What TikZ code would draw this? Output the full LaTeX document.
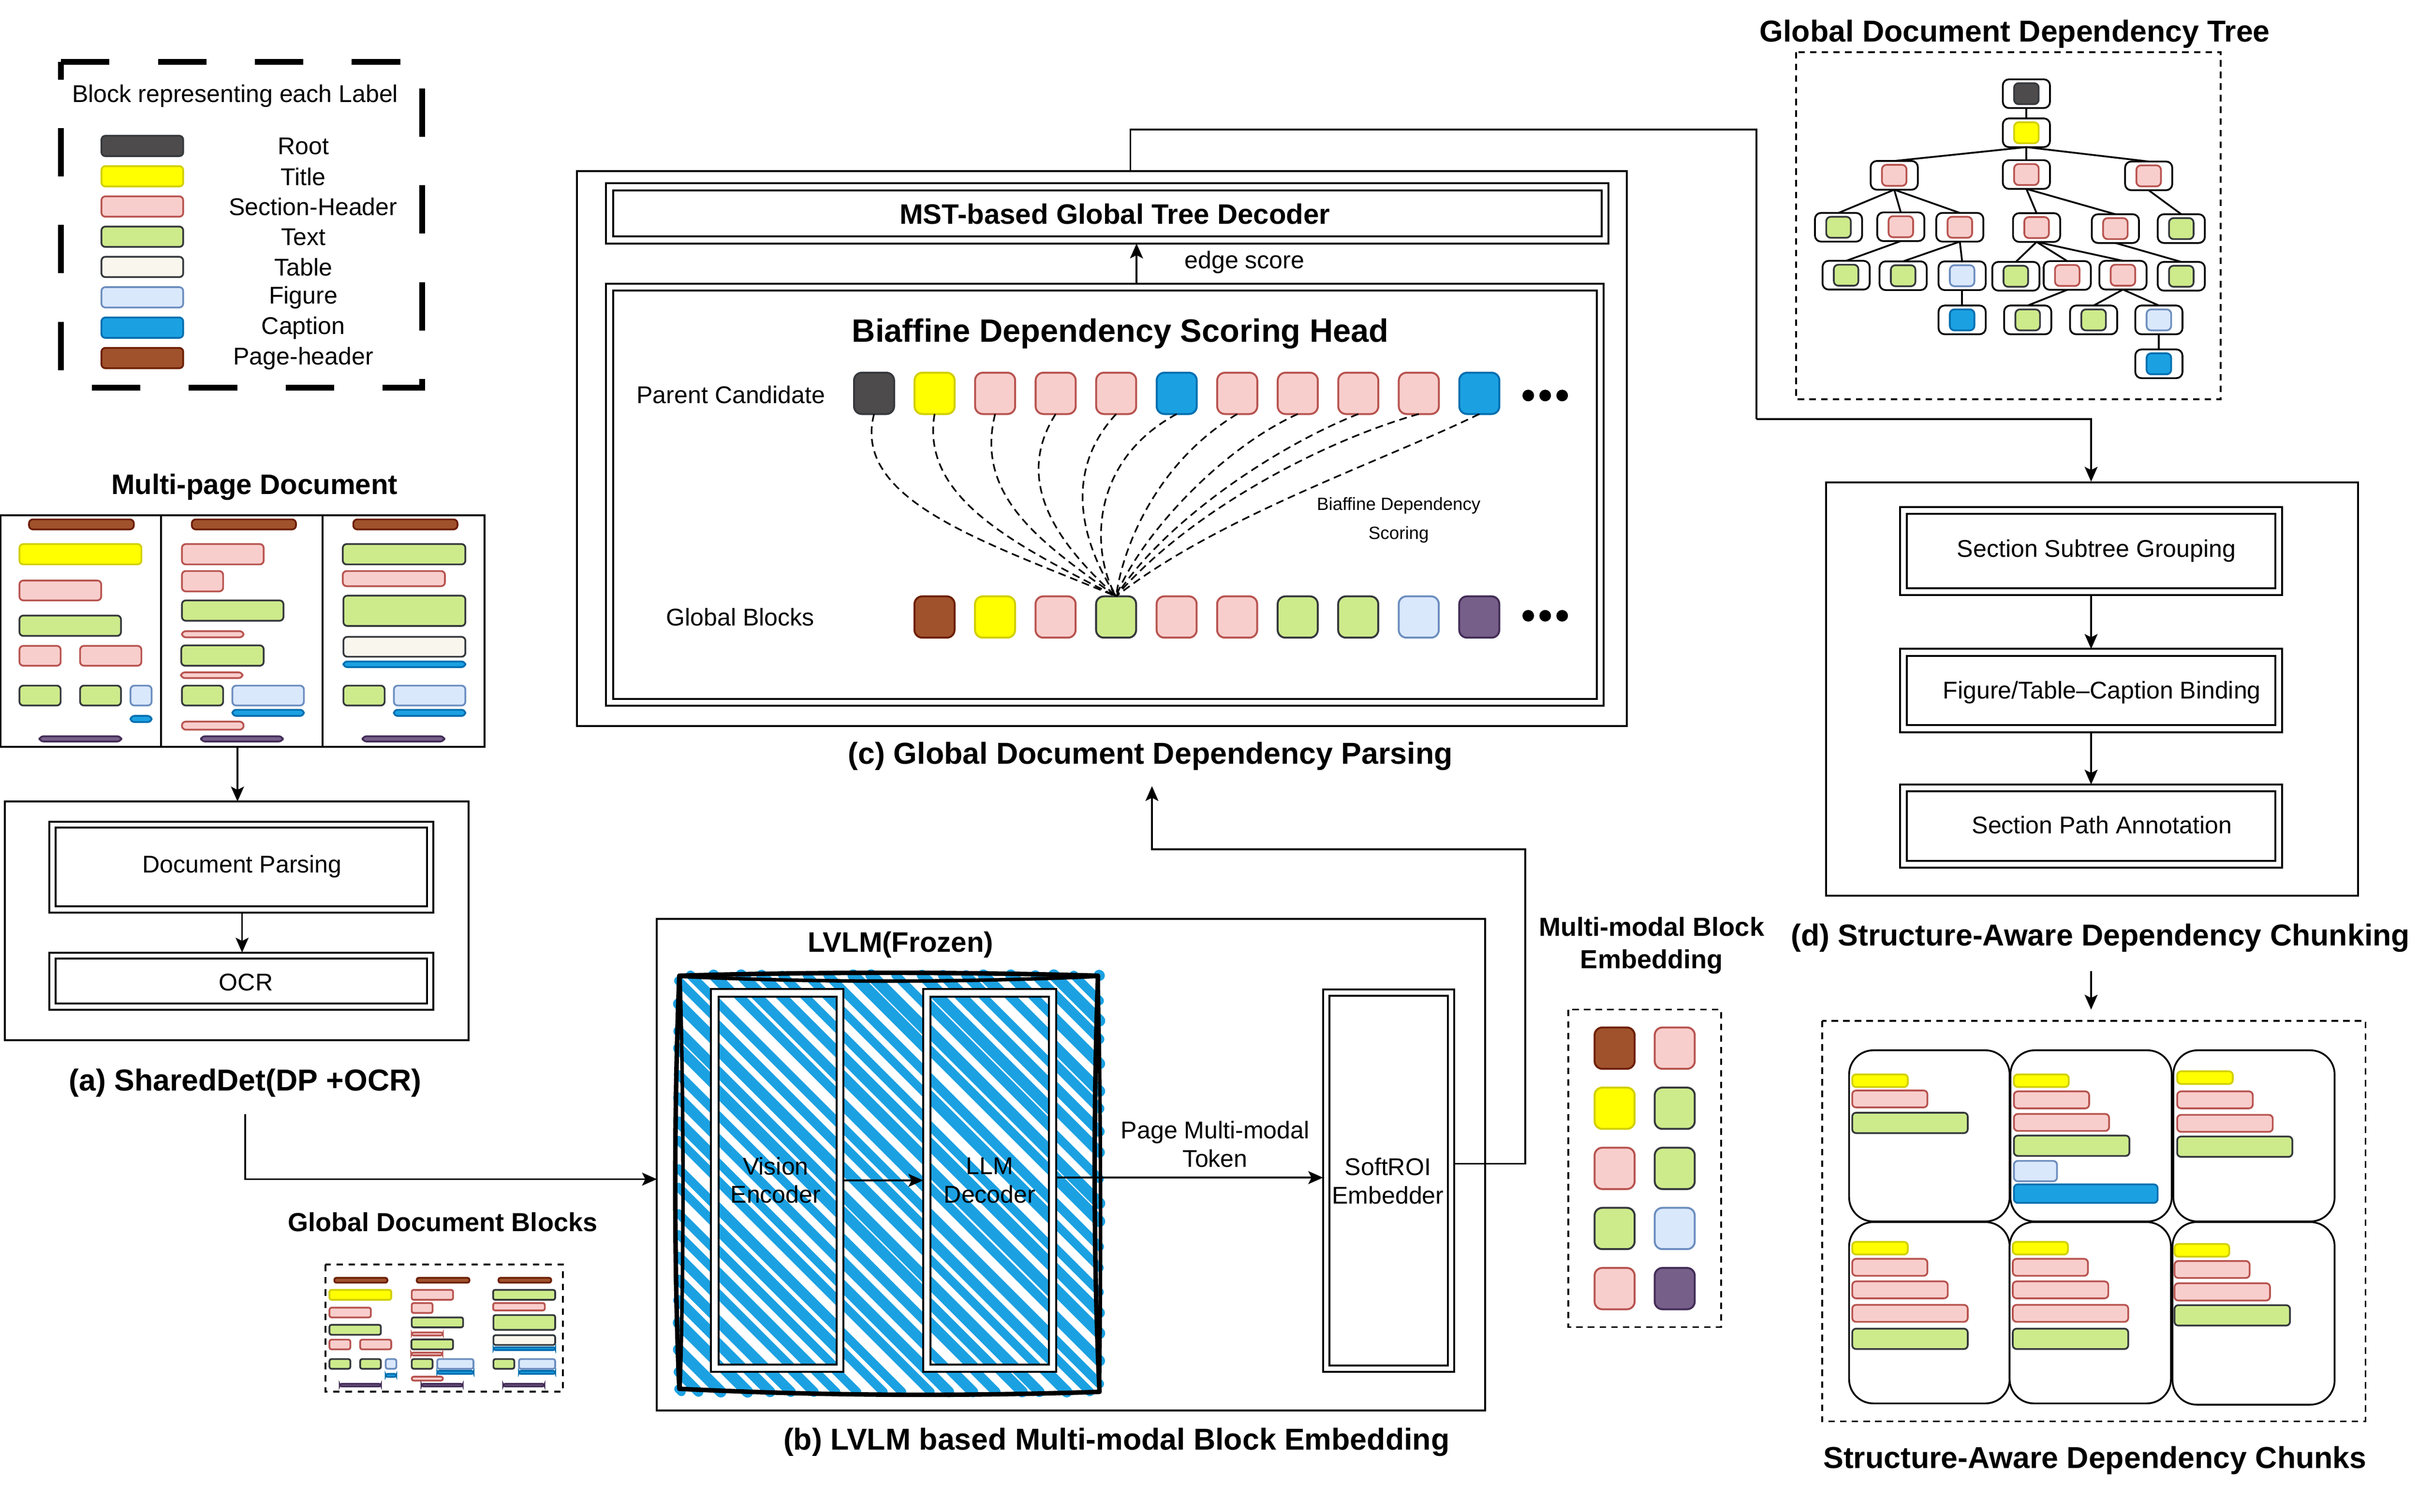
\documentclass[tikz,border=0pt]{standalone}
\usepackage{fontspec}
\setmainfont{Liberation Sans}
\usetikzlibrary{arrows.meta,fit,calc}
\definecolor{cRootF}{HTML}{4D4B4B}\definecolor{cDark}{HTML}{36393D}
\definecolor{cTitleS}{HTML}{D1CF00}
\definecolor{cSecF}{HTML}{F8CECC}\definecolor{cSecS}{HTML}{B85450}
\definecolor{cTextF}{HTML}{CDEB8B}
\definecolor{cTabF}{HTML}{F9F7ED}
\definecolor{cFigF}{HTML}{DAE8FC}\definecolor{cFigS}{HTML}{6C8EBF}
\definecolor{cCapF}{HTML}{1BA1E2}\definecolor{cCapS}{HTML}{006EAF}
\definecolor{cHeadF}{HTML}{A0522D}\definecolor{cHeadS}{HTML}{6D1F00}
\definecolor{cFootF}{HTML}{76608A}\definecolor{cFootS}{HTML}{432D57}
\definecolor{cPure}{HTML}{FFFF00}
\tikzset{
 bRoot/.style={draw=cDark,fill=cRootF},
 bTitle/.style={draw=cTitleS,fill=cPure},
 bSec/.style={draw=cSecS,fill=cSecF},
 bText/.style={draw=cDark,fill=cTextF},
 bTable/.style={draw=cDark,fill=cTabF},
 bFig/.style={draw=cFigS,fill=cFigF},
 bCap/.style={draw=cCapS,fill=cCapF},
 bHead/.style={draw=cHeadS,fill=cHeadF},
 bFoot/.style={draw=cFootS,fill=cFootF},
 blockline/.style={line width=0.55pt,rounded corners=1.2pt},
 cell/.style={line width=0.6pt,rounded corners=2.4pt,minimum width=12.4pt,minimum height=12.8pt,inner sep=0pt,outer sep=0pt},
 frame/.style={draw,line width=0.6pt,inner sep=0pt,outer sep=0pt},
 inframe/.style={line width=0.6pt},
 lab/.style={font=\fontsize{7.5}{8.8}\selectfont,inner sep=0pt,align=center,yshift=-0.1pt},
 slab/.style={font=\fontsize{5.5}{9}\selectfont,inner sep=0pt,align=center,yshift=-0.4pt},
 blab/.style={font=\fontsize{9.38}{11}\selectfont\bfseries,inner sep=0pt,align=center,yshift=-0.7pt},
 blabm/.style={font=\fontsize{8.72}{10.4}\selectfont\bfseries,inner sep=0pt,align=center,yshift=-0.4pt},
 blabs/.style={font=\fontsize{8.1}{10}\selectfont\bfseries,inner sep=0pt,align=center,yshift=-0.4pt},
 arr/.style={line width=0.55pt,-{Stealth[length=4.6pt,width=4pt,inset=1pt]}},
 dashy/.style={line width=0.5pt,dash pattern=on 2.4pt off 1.5pt},
 dashbox/.style={line width=0.55pt,dash pattern=on 2pt off 1.6pt},
 tnout/.style={draw,line width=0.55pt,rounded corners=1.9pt,minimum width=14.6pt,minimum height=8.9pt,inner sep=0pt,outer sep=0pt,fill=white},
 tnin/.style={line width=0.55pt,rounded corners=1.4pt,minimum width=7.6pt,minimum height=6.5pt,inner sep=0pt},
 tedge/.style={line width=0.55pt},
 card/.style={draw,line width=0.55pt,rounded corners=7.5pt,fill=white},
 dotn/.style={circle,fill=black,minimum size=3.6pt,inner sep=0pt},
}
\newcommand{\blk}[5]{\draw[blockline,#1] (#2,#3) rectangle (#4,#5);}
\newcommand{\dblbox}[6]{%
 \node[frame,fit={(#2,#3)(#4,#5)}] (#1) {};
 \draw[inframe] ([shift={(#6,#6)}]#1.north west) rectangle ([shift={(-#6,-#6)}]#1.south east);}
\newcommand{\tnode}[4]{\node[tnout] (#1) at (#3,#4) {}; \node[tnin,#2] (#1i) at (#1) {};}
\newcommand{\hatchfill}[4]{%
 \foreach \k in {0,...,40}{%
  \pgfmathsetmacro\cc{(#1)-(#4)+14.7*\k+5*rnd-2.5}%
  \pgfmathsetmacro\sx{max(#1,\cc+#2)}%
  \pgfmathsetmacro\ex{min(#3,\cc+#4)}%
  \pgfmathsetmacro\sy{\sx-\cc}%
  \pgfmathsetmacro\ey{\ex-\cc}%
  \pgfmathsetmacro\wd{2.5+1.1*rnd}%
  \ifdim\ex pt>\sx pt
   \draw[cCapF,line width=\wd pt,line cap=round] (\sx,\sy) -- (\ex,\ey);
  \fi
 }}
\newcommand{\docblocks}{%
 \blk{bHead}{88}{1029}{406}{1050}
 \blk{bTitle}{59}{1081}{429}{1124}
 \blk{bSec}{59}{1158}{307}{1200}
 \blk{bText}{59}{1232}{367}{1275}
 \blk{bSec}{59}{1296}{184}{1338}
 \blk{bSec}{243}{1296}{429}{1338}
 \blk{bText}{59}{1380}{184}{1422}
 \blk{bText}{243}{1380}{367}{1422}
 \blk{bFig}{396}{1380}{460}{1422}
 \blk{bCap}{396}{1444}{460}{1457}
 \blk{bFoot}{120}{1487}{368}{1498}
 \blk{bHead}{582}{1029}{898}{1050}
 \blk{bSec}{552}{1081}{800}{1124}
 \blk{bSec}{552}{1138}{677}{1181}
 \blk{bText}{552}{1200}{860}{1243}
 \blk{bSec}{552}{1265}{739}{1278}
 \blk{bText}{550}{1295}{800}{1338}
 \blk{bSec}{549}{1352}{736}{1364}
 \blk{bText}{552}{1380}{677}{1422}
 \blk{bFig}{705}{1380}{922}{1422}
 \blk{bCap}{705}{1431}{922}{1444}
 \blk{bSec}{552}{1456}{739}{1473}
 \blk{bFoot}{610}{1487}{858}{1498}
 \blk{bHead}{1072}{1029}{1388}{1050}
 \blk{bText}{1040}{1081}{1412}{1124}
 \blk{bSec}{1040}{1138}{1350}{1170}
 \blk{bText}{1042}{1190}{1412}{1254}
 \blk{bTable}{1042}{1277}{1412}{1319}
 \blk{bCap}{1042}{1329}{1412}{1341}
 \blk{bText}{1042}{1380}{1167}{1422}
 \blk{bFig}{1195}{1380}{1412}{1422}
 \blk{bCap}{1195}{1431}{1412}{1444}
 \blk{bFoot}{1100}{1487}{1348}{1498}
}
\begin{document}
\begin{tikzpicture}[x=0.47742pt,y=-0.47742pt]
\useasboundingbox (0,0) rectangle (1568,980.7);
\pgfmathsetseed{7}
% ---------- legend
\draw[line width=1.8pt,dash pattern=on 15pt off 15pt] (39.6,40.2) -- (273.8,40.2) -- (273.8,251.6) -- (39.6,251.6) -- cycle;
\node[lab] (legendt) at (152.5,62) {Block representing each Label};
\foreach \yy/\st/\nm/\tx in {94.7/bRoot/Root/196.7,114.4/bTitle/Title/196.7,134/bSec/Section-Header/203,153.6/bText/Text/196.7,173.2/bTable/Table/196.7,192.9/bFig/Figure/196.7,212.6/bCap/Caption/196.7,232.3/bHead/Page-header/196.7}{
 \draw[blockline,\st] (65.8,\yy-6.6) rectangle (118.8,\yy+6.6);
 \node[lab] at (\tx,\yy) {\nm};
}
% ---------- multi-page document
\node[blabm] (mpt) at (165,315) {Multi-page Document};
\begin{scope}[x=0.10204pt,y=-0.14663pt,yshift=-10pt]
 \draw[line width=0.6pt] (2,1020) rectangle (1470,1509);
 \draw[line width=0.6pt] (489,1020) -- (489,1509) (979,1020) -- (979,1509);
 \docblocks
\end{scope}
% ---------- (a)
\node[frame,fit={(3,520)(304,675)}] (abox) {};
\dblbox{dparse}{32}{533}{281}{592}{4}
\dblbox{ocr}{32}{618}{281}{655}{4}
\node[lab] (dpt) at (157,562) {Document Parsing};
\node[lab] (ocrt) at (159.5,637) {OCR};
\node[blab] (acap) at (159,701) {(a) SharedDet(DP +OCR)};
\coordinate (docbottom) at (154,484);
\draw[arr] (docbottom) -- (docbottom |- abox.north);
\draw[arr] (dparse.south -| 157,0) -- (ocr.north -| 157,0);
% ---------- global document blocks
\node[blabs] (gdbt) at (287,792) {Global Document Blocks};
\draw[dashbox,line width=0.6pt,dash pattern=on 2pt off 1.8pt] (211,820.5) rectangle (365,903);
\begin{scope}[x=0.05163pt,y=-0.0717pt,xshift=98.96pt,yshift=-322pt,blockline/.append style={rounded corners=0.6pt}]
 \docblocks
\end{scope}
% ---------- (b)
\node[frame,fit={(426,596)(963,915)}] (bbox) {};
\node[blabm] (lvlm) at (584,612) {LVLM(Frozen)};
\hatchfill{440}{632.6}{713}{903}
\node[frame,fill=white,fit={(461,641.6)(547,890)}] (venc) {};
\node[frame,fill=white,fit={(598.7,641.6)(685,890)}] (llm) {};
\begin{scope}
 \clip (466,646.5) rectangle (542.5,885.4);
 \hatchfill{440}{632.6}{713}{903}
\end{scope}
\begin{scope}
 \clip (603.3,646.5) rectangle (680.3,885.4);
 \hatchfill{440}{632.6}{713}{903}
\end{scope}
\draw[inframe] (466,646.5) rectangle (542.5,885.4);
\draw[inframe] (603.3,646.5) rectangle (680.3,885.4);
\draw[line width=1.4pt,line cap=round,line join=round]
  (440.5,633) .. controls (530,630.5) and (620,630.5) .. (712,633)
  .. controls (709,720) and (709,820) .. (713,903)
  .. controls (620,906) and (530,905.5) .. (440.5,901)
  .. controls (437,820) and (437,720) .. (440.5,633);
\draw[line width=1.1pt,line cap=round,line join=round]
  (441,633.5) .. controls (530,637.5) and (620,637.5) .. (712,633.5)
  .. controls (714,720) and (714,820) .. (713,903);
\draw[line width=1.1pt,line cap=round] (441,633.5) .. controls (443.5,720) and (443.5,820) .. (441,901);
\node[lab] (venct) at (503,765.5) {Vision\\Encoder};
\node[lab] (llmt) at (641.8,765.5) {LLM\\Decoder};
\dblbox{sroi}{858}{642}{943}{890}{4}
\node[lab] (sroit) at (900,766) {SoftROI\\Embedder};
\coordinate (vl) at (547,765.8);
\draw[arr] (vl) -- (vl -| llm.west);
\coordinate (ll) at (685,764);
\draw[arr] (ll) -- (ll -| sroi.west);
\node[lab] (pmt) at (788,742) {Page Multi-modal\\Token};
\node[blab] (bcap) at (724,934) {(b) LVLM based Multi-modal Block Embedding};
\coordinate (afrom) at (159,723);
\coordinate (binto) at (426,765);
\draw[arr] (afrom) |- (binto);
% ---------- multimodal block embedding
\node[blabs] (mmt) at (1071,612.5) {Multi-modal Block\\Embedding};
\draw[dashbox] (1017,655) rectangle (1116,861);
\foreach \yy/\la/\lb [count=\n] in {680/bHead/bSec,719/bTitle/bText,758/bSec/bText,797/bText/bFig,836/bSec/bFoot}{
 \node[cell,\la] (mL\n) at (1047,\yy) {};
 \node[cell,\lb] (mR\n) at (1086,\yy) {};
}
\coordinate (srout) at (943,755);
\coordinate (srtop) at (989,551);
\coordinate (cin) at (747,510);
\draw[arr] (srout) -| (srtop) -| (cin);
% ---------- (c)
\node[frame,fit={(374,111)(1055,471)}] (cbox) {};
\dblbox{mst}{393}{119}{1043}{158}{4.5}
\node[blabm] (mstt) at (723,138) {MST-based Global Tree Decoder};
\node[lab] (edge) at (807,170) {edge score};
\dblbox{bia}{393}{184}{1040}{458}{4.5}
\coordinate (bup) at (737,184);
\draw[arr] (bup) -- (bup |- mst.south);
\node[font=\fontsize{10}{12}\selectfont\bfseries,inner sep=0pt,yshift=-0.7pt] (biat) at (726.5,215) {Biaffine Dependency Scoring Head};
\node[lab] (pct) at (474,256) {Parent Candidate};
\node[lab] (gbt) at (480,400) {Global Blocks};
\foreach \i/\st in {0/bRoot,1/bTitle,2/bSec,3/bSec,4/bSec,5/bCap,6/bSec,7/bSec,8/bSec,9/bSec,10/bCap}{
 \node[cell,\st] (p\i) at ({566.8+39.25*\i},255.2) {};
}
\foreach \i/\st in {0/bHead,1/bTitle,2/bSec,3/bText,4/bSec,5/bSec,6/bText,7/bText,8/bFig,9/bFoot}{
 \node[cell,\st] (g\i) at ({606+39.25*\i},400.3) {};
}
\foreach \dx in {991,1002,1013}{\node[dotn] at (\dx,256.6) {}; \node[dotn] at (\dx,399.5) {};}
\foreach \i/\ax/\ay/\bx/\by in {0/552/325/640/352,1/597/322/655/352,2/632/322/675/352,3/657/312/685/352,4/690/305/700/350,5/705/300/708/360,6/750/300/728/355,7/790/292/738/350,8/822/292/752/342,9/852/288/768/335,10/895/300/790/335}{
 \draw[dashy] (p\i.south) .. controls (\ax,\ay) and (\bx,\by) .. (g3.north);
}
\node[slab] (bdt) at (907,336.5) {Biaffine Dependency\\Scoring};
\node[blab] (ccap) at (746,489) {(c) Global Document Dependency Parsing};
% ---------- tree
\node[blab] (tt) at (1306.5,20.5) {Global Document Dependency Tree};
\begin{scope}[x=0.10204pt,y=-0.08292pt,xshift=540pt]
 \draw[dashbox] (157,195) rectangle (1446,1491);
 \tnode{rt}{bRoot}{856}{350}
 \tnode{tl}{bTitle}{856}{496}
 \tnode{sa}{bSec}{455}{655}
 \tnode{sb}{bSec}{856}{652}
 \tnode{sc}{bSec}{1227}{657}
 \tnode{ta}{bText}{286}{849}
 \tnode{sd}{bSec}{475}{847}
 \tnode{se}{bSec}{654}{849}
 \tnode{sf}{bSec}{887}{850}
 \tnode{sg}{bSec}{1126}{854}
 \tnode{tb}{bText}{1326}{854}
 \tnode{tc}{bText}{309}{1028}
 \tnode{td}{bText}{482}{1030}
 \tnode{fa}{bFig}{661}{1030}
 \tnode{te}{bText}{824}{1032}
 \tnode{sh}{bSec}{980}{1029}
 \tnode{si}{bSec}{1149}{1028}
 \tnode{tf}{bText}{1326}{1032}
 \tnode{ca}{bCap}{661}{1195}
 \tnode{tg}{bText}{860}{1195}
 \tnode{th}{bText}{1060}{1195}
 \tnode{fb}{bFig}{1258}{1195}
 \tnode{cb}{bCap}{1258}{1359}
 \foreach \u/\v in {rt/tl,tl/sa,tl/sb,tl/sc,sa/ta,sa/sd,sa/se,sb/sf,sb/sg,sc/tb,sd/tc,se/td,se/fa,sf/te,sf/sh,sf/si,sg/tf,fa/ca,sh/tg,si/th,si/fb,fb/cb}{
  \draw[tedge] (\u.south) -- (\v.north);
 }
\end{scope}
\coordinate (cout) at (733,111);
\coordinate (ctop) at (1139,84);
\coordinate (dmid) at (1139,272);
\coordinate (dtop) at (1356,312.5);
\draw[line width=0.55pt] (cout) |- (ctop) -- (dmid);
\draw[arr] (dmid) -| (dtop);
% ---------- (d)
\node[frame,fit={(1184,313)(1529,581)}] (dbox) {};
\dblbox{d1}{1232}{329}{1480}{386}{4.5}
\dblbox{d2}{1232}{421}{1480}{475}{4.5}
\dblbox{d3}{1232}{509}{1480}{563}{4.5}
\node[lab] (d1t) at (1359.5,357) {Section Subtree Grouping};
\node[lab] (d2t) at (1363,449) {Figure/Table–Caption Binding};
\node[lab] (d3t) at (1363,535) {Section Path Annotation};
\coordinate (dax) at (1356,400);
\draw[arr] (d1.south -| dax) -- (d2.north -| dax);
\draw[arr] (d2.south -| dax) -- (d3.north -| dax);
\node[blab] (dcap) at (1362,607) {(d) Structure-Aware Dependency Chunking};
\coordinate (chf) at (1356,630);
\coordinate (cht) at (1356,655);
\draw[arr] (chf) -- (cht);
% ---------- chunks
\begin{scope}[x=0.12121pt,y=-0.09569pt,xshift=555pt,yshift=-310pt]
 \draw[dashbox] (75,65) rectangle (1463,1361);
 \draw[card] (144,160) rectangle (554,714);
 \draw[card] (556,160) rectangle (968,714);
 \draw[card] (972,160) rectangle (1384,714);
 \draw[card] (144,716) rectangle (554,1303);
 \draw[card] (554,716) rectangle (966,1303);
 \draw[card] (970,716) rectangle (1384,1307);
 \blk{bTitle}{152}{238}{294}{279}
 \blk{bSec}{152}{290}{344}{345}
 \blk{bText}{152}{362}{447}{428}
 \blk{bTitle}{565}{238}{705}{279}
 \blk{bSec}{565}{293}{757}{348}
 \blk{bSec}{565}{366}{808}{421}
 \blk{bText}{565}{436}{860}{502}
 \blk{bFig}{565}{518}{675}{584}
 \blk{bCap}{565}{594}{932}{654}
 \blk{bTitle}{982}{228}{1124}{269}
 \blk{bSec}{982}{293}{1175}{348}
 \blk{bSec}{982}{369}{1226}{424}
 \blk{bText}{982}{439}{1276}{505}
 \blk{bTitle}{152}{780}{294}{821}
 \blk{bSec}{152}{835}{344}{890}
 \blk{bSec}{152}{908}{396}{963}
 \blk{bSec}{152}{984}{447}{1039}
 \blk{bText}{152}{1061}{447}{1127}
 \blk{bTitle}{562}{780}{703}{821}
 \blk{bSec}{562}{835}{754}{890}
 \blk{bSec}{562}{908}{806}{963}
 \blk{bSec}{562}{984}{857}{1039}
 \blk{bText}{562}{1061}{857}{1127}
 \blk{bTitle}{975}{787}{1115}{828}
 \blk{bSec}{975}{842}{1167}{897}
 \blk{bSec}{975}{914}{1219}{970}
 \blk{bText}{975}{985}{1270}{1051}
\end{scope}
\node[blab] (sadc) at (1358.5,946) {Structure-Aware Dependency Chunks};
\end{tikzpicture}
\end{document}
